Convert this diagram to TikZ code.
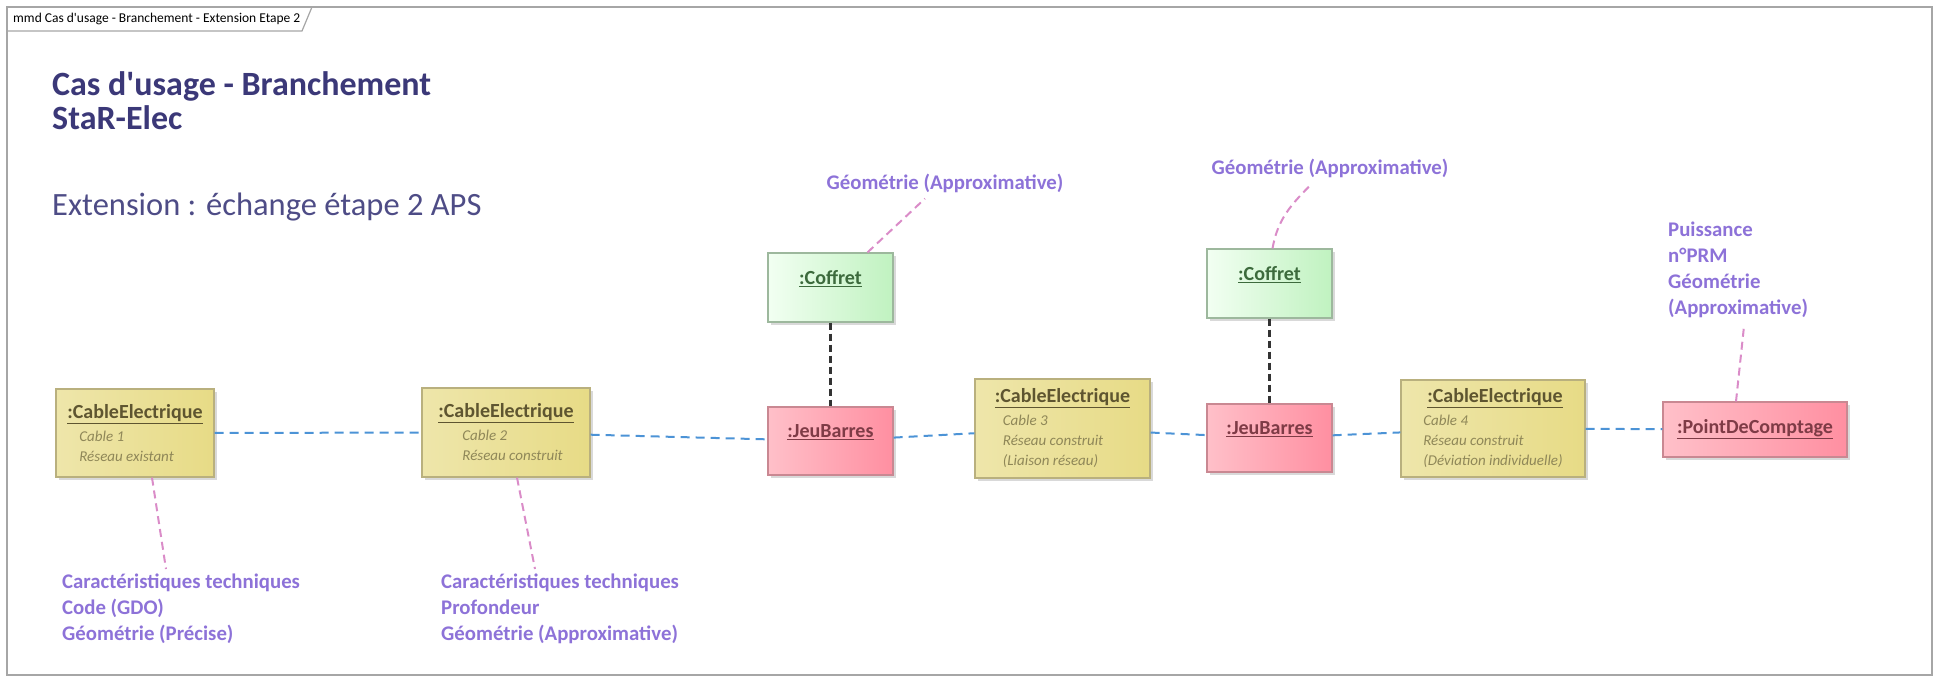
\documentclass[tikz,border=0pt]{standalone}
\usepackage{fontspec}
\setmainfont{Carlito}
\usetikzlibrary{shadows}

\definecolor{framegray}{HTML}{A6A6A6}
\definecolor{titleblue}{HTML}{3B3878}
\definecolor{extblue}{HTML}{4E4C86}
\definecolor{notepurple}{HTML}{8D72D8}
\definecolor{notepink}{HTML}{DA8CC8}
\definecolor{linkblue}{HTML}{4C93D6}
\definecolor{cableline}{HTML}{B9B07E}
\definecolor{cabletext}{HTML}{5E5530}
\definecolor{cableital}{HTML}{8F8758}
\definecolor{barline}{HTML}{C98892}
\definecolor{bartext}{HTML}{7E3B46}
\definecolor{cofline}{HTML}{9DB89D}
\definecolor{coftext}{HTML}{3D6B3D}
\definecolor{cablefill}{HTML}{E7DB86}
\definecolor{barfill}{HTML}{FFC0C9}
\definecolor{barfillR}{HTML}{FF8FA1}
\definecolor{coffill}{HTML}{F2FFF2}
\definecolor{coffillR}{HTML}{C0F2C0}

\newcommand{\objname}[1]{\underline{\textbf{#1}}}
\newcommand{\objinfo}[1]{{\fontsize{15}{19}\selectfont\itshape\color{cableital}#1}}

\begin{document}
\begin{tikzpicture}[x=1pt,y=-1pt,
  obj/.style={line width=1.2pt, inner sep=0pt,
    drop shadow={shadow xshift=3pt, shadow yshift=-3pt, opacity=.3, fill=gray}},
  cable/.style={obj, draw=cableline, left color=cablefill!70!white, right color=cablefill,
    align=left, text=cabletext, font=\fontsize{20}{20}\selectfont},
  barre/.style={obj, draw=barline, left color=barfill, right color=barfillR,
    minimum width=125pt, minimum height=68pt, text depth=20pt,
    text=bartext, font=\fontsize{20}{24}\selectfont},
  coffret/.style={obj, draw=cofline, left color=coffill, right color=coffillR,
    minimum width=125pt, minimum height=69pt, text depth=20pt,
    text=coftext, font=\fontsize{20}{24}\selectfont},
  note/.style={inner sep=0pt, align=left, text=notepurple,
    font=\fontsize{20.8}{26}\selectfont\bfseries},
  link/.style={linkblue, line width=2pt, dash pattern=on 9pt off 6pt},
  assoc/.style={black!80, line width=3.5pt, dash pattern=on 7pt off 4pt},
  noteline/.style={notepink, line width=2pt, dash pattern=on 8pt off 5pt}]
\useasboundingbox (0,0) rectangle (1939,679);

% frame and tab
\draw[framegray, line width=2pt] (7,7) rectangle (1932,675);
\draw[framegray, line width=1.2pt] (7,31) -- (302,31) -- (312,7);
\node[anchor=west, inner sep=0pt, font=\fontsize{13.5}{14}\selectfont] (tab) at (13,19)
  {mmd Cas d\textquotesingle usage - Branchement - Extension Etape 2};

% titles
\node[anchor=west, align=left, inner sep=0pt, text=titleblue,
  font=\fontsize{34}{34}\selectfont\bfseries] (titre) at (52,101)
  {Cas d\textquotesingle usage - Branchement\\StaR-Elec};
\node[anchor=west, inner sep=0pt, text=extblue, font=\fontsize{32.5}{36}\selectfont] (ext) at (52,207)
  {Extension : échange étape 2 APS};

% objects
\node[cable, minimum width=158pt, minimum height=88pt] (c1) at (135,433)
  {\objname{:CableElectrique}\\[3pt]\hspace*{12pt}\objinfo{Cable 1}\\\hspace*{12pt}\objinfo{Réseau existant}};
\node[cable, minimum width=168pt, minimum height=89pt] (c2) at (506,432.5)
  {\objname{:CableElectrique}\\[3pt]\hspace*{24pt}\objinfo{Cable 2}\\\hspace*{24pt}\objinfo{Réseau construit}};
\node[coffret] (cof1) at (830.5,287.5) {\objname{:Coffret}};
\node[barre] (jb1) at (830.5,441) {\objname{:JeuBarres}};
\node[cable, minimum width=175pt, minimum height=99pt] (c3) at (1062.5,428.5)
  {\objname{:CableElectrique}\\[3pt]\hspace*{8pt}\objinfo{Cable 3}\\\hspace*{8pt}\objinfo{Réseau construit}\\\hspace*{8pt}\objinfo{(Liaison réseau)}};
\node[coffret] (cof2) at (1269.5,283.5) {\objname{:Coffret}};
\node[barre] (jb2) at (1269.5,438) {\objname{:JeuBarres}};
\node[cable, minimum width=184pt, minimum height=97pt] (c4) at (1493,428.5)
  {\hspace*{4pt}\objname{:CableElectrique}\\[3pt]\objinfo{Cable 4}\\\objinfo{Réseau construit}\\\objinfo{(Déviation individuelle)}};
\node[barre, minimum width=184pt, minimum height=55pt, text depth=6pt] (pdc) at (1755,429.5)
  {\objname{:PointDeComptage}};

% notes
\node[note, anchor=north west] (n1) at (62,574)
  {Caractéristiques techniques\\Code (GDO)\\Géométrie (Précise)};
\node[note, anchor=north west] (n2) at (441,574)
  {Caractéristiques techniques\\Profondeur\\Géométrie (Approximative)};
\node[note] (g1) at (945,183) {Géométrie (Approximative)};
\node[note] (g2) at (1330,168) {Géométrie (Approximative)};
\node[note, anchor=north west] (n3) at (1668,222)
  {Puissance\\n°PRM\\Géométrie\\(Approximative)};

% connectors
\draw[link] (c1) -- (c2);
\draw[link] (c2) -- (jb1);
\draw[link] (jb1) -- (c3);
\draw[link] (c3) -- (jb2);
\draw[link] (jb2) -- (c4);
\draw[link] (c4) -- (pdc);
\draw[assoc] (cof1) -- (jb1);
\draw[assoc] (cof2) -- (jb2);

\draw[noteline] ([xshift=17pt]c1.south) -- ([xshift=104pt,yshift=5pt]n1.north west);
\draw[noteline] ([xshift=11pt]c2.south) -- ([xshift=94pt,yshift=5pt]n2.north west);
\draw[noteline] ([xshift=37pt]cof1.north) -- ([xshift=-20pt,yshift=-6pt]g1.south);
\draw[noteline] ([xshift=3pt]cof2.north) to[out=80,in=225] ([xshift=-18pt,yshift=-6pt]g2.south);
\draw[noteline] ([xshift=-19pt]pdc.north) -- ([xshift=76pt,yshift=-8pt]n3.south west);
\end{tikzpicture}
\end{document}
